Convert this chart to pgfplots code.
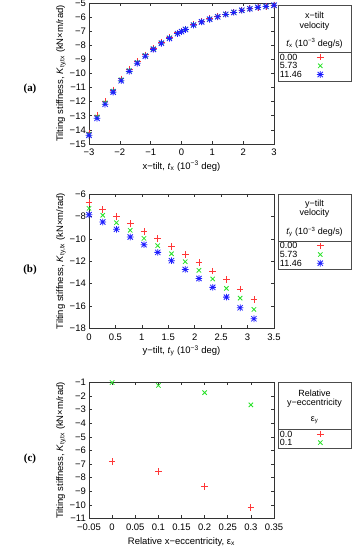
\documentclass[border=0pt]{standalone}
\usepackage{fontspec}
\setmainfont{Liberation Sans}
\newfontfamily\serif{Liberation Serif}
\usepackage{pgfplots}
\pgfplotsset{compat=1.18}

\definecolor{gpred}{RGB}{255,55,55}
\definecolor{gpgreen}{RGB}{40,225,40}
\definecolor{gpblue}{RGB}{30,30,255}

\pgfdeclareplotmark{star8}{%
 \pgfpathmoveto{\pgfqpoint{-\pgfplotmarksize}{0pt}}\pgfpathlineto{\pgfqpoint{\pgfplotmarksize}{0pt}}%
 \pgfpathmoveto{\pgfqpoint{0pt}{-\pgfplotmarksize}}\pgfpathlineto{\pgfqpoint{0pt}{\pgfplotmarksize}}%
 \pgfpathmoveto{\pgfqpoint{-0.8\pgfplotmarksize}{-0.8\pgfplotmarksize}}\pgfpathlineto{\pgfqpoint{0.8\pgfplotmarksize}{0.8\pgfplotmarksize}}%
 \pgfpathmoveto{\pgfqpoint{-0.8\pgfplotmarksize}{0.8\pgfplotmarksize}}\pgfpathlineto{\pgfqpoint{0.8\pgfplotmarksize}{-0.8\pgfplotmarksize}}%
 \pgfusepathqstroke}

\pgfplotsset{
  gp/.style={
    scale only axis, width=185bp, clip=false,
    axis line style={black!80, line width=0.8bp},
    tick align=inside, major tick length=3bp,
    tick style={black!80, line width=0.6bp},
    xtick pos=both, ytick pos=both,
    ticklabel style={font=\fontsize{9.5}{11}\selectfont},
    label style={font=\fontsize{9.5}{11}\selectfont},
    xticklabel style={inner sep=0pt, yshift=-4bp},
    yticklabel style={inner sep=0pt, xshift=-3bp},
    ylabel style={at={(axis description cs:-0.151,0.5)}, anchor=center},
    ylabel={Tilting stiffness, \textit{K}\textsubscript{ty,tx} (kN×m/rad)},
    legend plot pos=right,
    legend cell align=left,
    legend style={draw=none, fill=none, inner sep=0pt, outer sep=0pt,
      row sep=0pt, column sep=7bp, anchor=north west,
      font=\fontsize{9}{9}\selectfont,
      nodes={inner sep=0pt, text height=7.5bp, text depth=1.2bp}},
  },
  sr/.style={only marks, mark=+, mark size=3.3bp, color=gpred, mark options={line width=0.8bp}},
  sg/.style={only marks, mark=x, mark size=3.1bp, color=gpgreen, mark options={line width=0.8bp}},
  sb/.style={only marks, mark=star8, mark size=3.3bp, color=gpblue, mark options={line width=0.8bp}},
}

\begin{document}
\begin{tikzpicture}
\path[use as bounding box] (0,0) rectangle (355bp,550bp);

% ---------------- (a)
\begin{axis}[gp, at={(89bp,547bp)}, anchor=north west, height=141bp,
  xmin=-3, xmax=3, ymin=-15, ymax=-5,
  xtick={-3,-2,-1,0,1,2,3}, xticklabels={−3,−2,−1,0,1,2,3},
  ytick={-15,-14,-13,-12,-11,-10,-9,-8,-7,-6,-5},
  yticklabels={−15,−14,−13,−12,−11,−10,−9,−8,−7,−6,−5},
  xticklabel style={yshift=-1bp},
  xlabel={x−tilt, \textit{t}\textsubscript{x} (10\textsuperscript{−3} deg)},
  xlabel style={at={(axis description cs:0.5,-0.158)}, anchor=center},
  legend style={at={(axis description cs:1.0324,0.647)}}]
\addplot[sr] coordinates {(-3,-14.21) (-2.739,-12.98) (-2.478,-12.00) (-2.217,-11.17) (-1.957,-10.38) (-1.696,-9.73) (-1.435,-9.17) (-1.174,-8.68) (-0.913,-8.21) (-0.652,-7.79) (-0.391,-7.45) (-0.130,-7.12) (0,-6.98) (0.130,-6.84) (0.391,-6.53) (0.652,-6.31) (0.913,-6.12) (1.174,-5.96) (1.435,-5.79) (1.696,-5.65) (1.957,-5.51) (2.217,-5.40) (2.478,-5.30) (2.739,-5.23) (3,-5.15)};
\addlegendentry{\makebox[30bp][l]{0.00}}
\addplot[sg] coordinates {(-3,-14.30) (-2.739,-13.08) (-2.478,-12.09) (-2.217,-11.25) (-1.957,-10.45) (-1.696,-9.79) (-1.435,-9.22) (-1.174,-8.73) (-0.913,-8.25) (-0.652,-7.83) (-0.391,-7.48) (-0.130,-7.15) (0,-7.01) (0.130,-6.86) (0.391,-6.55) (0.652,-6.33) (0.913,-6.14) (1.174,-5.97) (1.435,-5.80) (1.696,-5.66) (1.957,-5.52) (2.217,-5.41) (2.478,-5.31) (2.739,-5.24) (3,-5.16)};
\addlegendentry{\makebox[30bp][l]{5.73}}
\addplot[sb] coordinates {(-3,-14.38) (-2.739,-13.18) (-2.478,-12.18) (-2.217,-11.32) (-1.957,-10.51) (-1.696,-9.85) (-1.435,-9.27) (-1.174,-8.77) (-0.913,-8.29) (-0.652,-7.86) (-0.391,-7.51) (-0.130,-7.17) (0,-7.03) (0.130,-6.88) (0.391,-6.57) (0.652,-6.34) (0.913,-6.15) (1.174,-5.98) (1.435,-5.81) (1.696,-5.67) (1.957,-5.52) (2.217,-5.41) (2.478,-5.31) (2.739,-5.24) (3,-5.16)};
\addlegendentry{\makebox[30bp][l]{11.46}}
\end{axis}

% ---------------- (b)
\begin{axis}[gp, at={(89bp,356bp)}, anchor=north west, height=134.5bp,
  xmin=0, xmax=3.5, ymin=-18, ymax=-6,
  xtick={0,0.5,1,1.5,2,2.5,3,3.5}, xticklabels={0,0.5,1,1.5,2,2.5,3,3.5},
  ytick={-18,-16,-14,-12,-10,-8,-6},
  yticklabels={−18,−16,−14,−12,−10,−8,−6},
  xticklabel style={yshift=-1bp},
  xlabel={y−tilt, \textit{t}\textsubscript{y} (10\textsuperscript{−3} deg)},
  xlabel style={at={(axis description cs:0.5,-0.166)}, anchor=center},
  legend style={at={(axis description cs:1.0324,0.647)}}]
\addplot[sr] coordinates {(0,-6.77) (0.26,-7.37) (0.52,-8.02) (0.78,-8.65) (1.04,-9.33) (1.30,-9.99) (1.56,-10.70) (1.82,-11.42) (2.08,-12.13) (2.34,-12.88) (2.60,-13.62) (2.86,-14.49) (3.12,-15.40)};
\addlegendentry{\makebox[30bp][l]{0.00}}
\addplot[sg] coordinates {(0,-7.28) (0.26,-7.90) (0.52,-8.56) (0.78,-9.24) (1.04,-9.96) (1.30,-10.61) (1.56,-11.33) (1.82,-12.04) (2.08,-12.81) (2.34,-13.58) (2.60,-14.42) (2.86,-15.29) (3.12,-16.30)};
\addlegendentry{\makebox[30bp][l]{5.73}}
\addplot[sb] coordinates {(0,-7.85) (0.26,-8.50) (0.52,-9.15) (0.78,-9.84) (1.04,-10.52) (1.30,-11.21) (1.56,-11.95) (1.82,-12.73) (2.08,-13.54) (2.34,-14.33) (2.60,-15.20) (2.86,-16.15) (3.12,-17.13)};
\addlegendentry{\makebox[30bp][l]{11.46}}
\end{axis}

% ---------------- (c)
\begin{axis}[gp, at={(89bp,167.5bp)}, anchor=north west, height=136bp,
  xmin=-0.05, xmax=0.35, ymin=-11, ymax=-1,
  xtick={-0.05,0,0.05,0.1,0.15,0.2,0.25,0.3,0.35},
  xticklabels={−0.05,0,0.05,0.1,0.15,0.2,0.25,0.3,0.35},
  ytick={-11,-10,-9,-8,-7,-6,-5,-4,-3,-2,-1},
  yticklabels={−11,−10,−9,−8,−7,−6,−5,−4,−3,−2,−1},
  xticklabel style={yshift=-1bp},
  xlabel={Relative x−eccentricity, ε\textsubscript{x}},
  xlabel style={at={(axis description cs:0.5,-0.172)}, anchor=center},
  legend style={at={(axis description cs:1.0324,0.654)}}]
\addplot[sr] coordinates {(0,-6.81) (0.1,-7.55) (0.2,-8.63) (0.3,-10.18)};
\addlegendentry{\makebox[30bp][l]{0.0}}
\addplot[sg] coordinates {(0,-1.0) (0.1,-1.22) (0.2,-1.74) (0.3,-2.65)};
\addlegendentry{\makebox[30bp][l]{0.1}}
\end{axis}

% ---------------- legend frames and titles
\begin{scope}[black!70, line width=0.8bp]
\draw (278bp,544.5bp) rectangle (351bp,469bp);
\draw (278bp,497.7bp) -- (351bp,497.7bp);
\draw (278bp,356bp) rectangle (351bp,280.7bp);
\draw (278bp,309bp) -- (351bp,309bp);
\draw (278bp,167.3bp) rectangle (351bp,102bp);
\draw (278bp,121bp) -- (351bp,121bp);
\end{scope}
\begin{scope}[every node/.style={anchor=base, inner sep=0pt, font=\fontsize{9}{9}\selectfont}]
\node at (314.5bp,531.7bp) {x−tilt};
\node at (314.5bp,521.7bp) {velocity};
\node at (314.5bp,503.4bp) {\.{\textit{t}}\textsubscript{x} (10\textsuperscript{−3} deg/s)};
\node at (314.5bp,343.7bp) {y−tilt};
\node at (314.5bp,334bp) {velocity};
\node at (314.5bp,315bp) {\.{\textit{t}}\textsubscript{y} (10\textsuperscript{−3} deg/s)};
\node at (314.5bp,153.7bp) {Relative};
\node at (314.5bp,144.7bp) {y−eccentricity};
\node at (314.5bp,128.7bp) {ε\textsubscript{y}};
\end{scope}

% ---------------- panel labels
\begin{scope}[every node/.style={inner sep=0pt, font=\serif\bfseries\fontsize{11}{11}\selectfont}]
\node at (30bp,461bp) {(a)};
\node at (30bp,280bp) {(b)};
\node at (30bp,91bp) {(c)};
\end{scope}
\end{tikzpicture}
\end{document}
